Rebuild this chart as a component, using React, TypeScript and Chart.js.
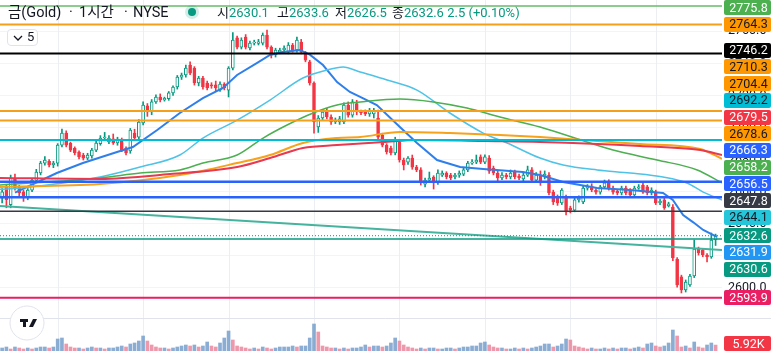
import React, { useEffect, useRef } from "react";
import { Chart, registerables } from "chart.js";

Chart.register(...registerables);

const FONT = "Roboto, 'Noto Sans CJK KR', 'Noto Sans', sans-serif";

// ---------- candles (1h bars, oldest first) ----------
const opens = [
  2656.0, 2663.0, 2652.0, 2668.0, 2663.0, 2660.0, 2656.5, 2661.0, 2667.0, 2671.7,
  2677.9, 2679.0, 2676.7, 2677.9, 2689.0, 2696.6, 2690.3, 2687.0, 2684.8, 2682.9,
  2681.0, 2682.3, 2686.0, 2690.0, 2693.5, 2691.0, 2693.0, 2690.4, 2692.3, 2687.0,
  2685.5, 2696.6, 2694.0, 2702.9, 2713.5, 2709.7, 2716.0, 2719.0, 2717.2, 2718.0,
  2721.6, 2725.3, 2731.5, 2732.8, 2739.0, 2737.1, 2727.8, 2730.9, 2727.8, 2726.6,
  2726.6, 2723.4, 2727.2, 2723.4, 2737.1, 2755.9, 2750.2, 2756.5, 2749.6, 2752.7,
  2752.5, 2752.7, 2757.7, 2750.2, 2745.3, 2747.1, 2748.4, 2747.1, 2751.5, 2748.4,
  2753.3, 2745.9, 2741.0, 2727.8, 2700.4, 2706.0, 2710.3, 2706.6, 2703.5, 2703.5,
  2703.5, 2714.1, 2707.8, 2715.0, 2709.7, 2709.7, 2708.5, 2708.5, 2706.0, 2695.4,
  2689.1, 2687.3, 2684.2, 2691.0, 2679.8, 2678.5, 2681.0, 2675.4, 2673.6, 2664.8,
  2667.3, 2669.2, 2665.5, 2670.4, 2671.7, 2670.4, 2669.2, 2670.4, 2671.0, 2673.6,
  2677.9, 2678.5, 2681.7, 2678.5, 2681.0, 2674.8, 2671.7, 2668.6, 2670.4, 2669.2,
  2672.3, 2669.8, 2668.0, 2670.4, 2673.6, 2667.3, 2670.4, 2669.8, 2670.4, 2659.8,
  2656.7, 2653.0, 2656.1, 2649.9, 2648.6, 2654.9, 2653.6, 2662.3, 2663.6, 2661.1,
  2659.8, 2663.0, 2666.1, 2662.3, 2660.4, 2659.2, 2662.3, 2661.1, 2658.0, 2662.3,
  2664.2, 2663.0, 2659.2, 2659.8, 2653.0, 2654.9, 2651.1, 2650.5, 2618.0, 2606.9,
  2598.8, 2601.9, 2607.5, 2624.3, 2623.7, 2620.6, 2619.3, 2630.1,
];
const highs = [
  2662.0, 2664.0, 2670.4, 2671.0, 2664.0, 2661.0, 2662.0, 2668.0, 2674.0, 2679.0,
  2682.0, 2680.0, 2679.0, 2690.0, 2699.1, 2698.0, 2691.0, 2688.0, 2685.5, 2684.0,
  2684.0, 2687.0, 2692.0, 2695.0, 2697.0, 2695.0, 2696.0, 2694.0, 2693.5, 2688.0,
  2699.5, 2699.0, 2705.0, 2716.0, 2715.0, 2717.5, 2720.5, 2721.0, 2719.0, 2722.5,
  2726.0, 2732.5, 2734.0, 2739.0, 2741.0, 2738.0, 2732.0, 2732.0, 2729.0, 2728.0,
  2729.0, 2728.5, 2728.0, 2738.0, 2759.3, 2757.0, 2756.0, 2758.0, 2754.0, 2754.5,
  2755.0, 2759.0, 2760.8, 2751.0, 2749.5, 2749.5, 2751.0, 2753.0, 2752.5, 2756.5,
  2755.0, 2747.5, 2742.0, 2728.5, 2707.5, 2711.0, 2712.0, 2708.0, 2706.0, 2707.0,
  2715.5, 2716.0, 2717.5, 2717.0, 2711.0, 2711.0, 2712.0, 2712.0, 2711.0, 2696.5,
  2690.0, 2688.5, 2694.0, 2692.5, 2681.0, 2682.0, 2682.9, 2676.5, 2675.0, 2668.5,
  2672.3, 2670.0, 2673.6, 2673.0, 2672.5, 2671.5, 2671.5, 2673.0, 2675.0, 2679.0,
  2680.0, 2682.9, 2683.0, 2683.0, 2682.5, 2676.0, 2673.0, 2672.0, 2671.5, 2673.6,
  2673.5, 2671.0, 2671.5, 2676.0, 2675.0, 2672.0, 2673.0, 2673.0, 2672.0, 2661.0,
  2658.0, 2662.0, 2658.0, 2651.0, 2656.0, 2657.5, 2663.5, 2664.5, 2665.0, 2662.0,
  2664.0, 2667.3, 2667.5, 2663.5, 2661.5, 2663.5, 2663.5, 2662.0, 2663.5, 2664.5,
  2666.0, 2664.0, 2662.5, 2661.0, 2655.5, 2656.0, 2653.5, 2652.0, 2619.0, 2608.0,
  2605.0, 2608.5, 2629.9, 2625.5, 2624.5, 2621.5, 2634.3, 2633.6,
];
const lows = [
  2653.0, 2650.0, 2650.0, 2661.0, 2657.0, 2654.0, 2655.0, 2660.0, 2666.0, 2670.5,
  2676.5, 2675.5, 2675.0, 2676.0, 2688.0, 2688.0, 2685.0, 2683.0, 2680.5, 2679.8,
  2680.0, 2681.0, 2685.0, 2689.0, 2692.0, 2690.0, 2689.5, 2689.0, 2685.0, 2683.0,
  2684.0, 2692.0, 2693.0, 2701.6, 2707.0, 2708.0, 2715.0, 2716.0, 2716.5, 2717.0,
  2720.0, 2724.0, 2730.0, 2731.5, 2733.0, 2726.5, 2726.0, 2724.0, 2723.5, 2724.5,
  2723.0, 2722.5, 2723.5, 2719.1, 2736.0, 2749.0, 2749.0, 2749.0, 2748.5, 2751.5,
  2751.5, 2751.5, 2749.0, 2743.4, 2744.0, 2746.0, 2747.0, 2746.0, 2747.0, 2747.0,
  2746.0, 2741.0, 2726.5, 2696.6, 2697.0, 2705.0, 2705.5, 2702.0, 2702.5, 2702.0,
  2702.5, 2706.5, 2706.5, 2708.0, 2708.0, 2707.5, 2707.0, 2706.0, 2693.0, 2688.0,
  2683.5, 2683.0, 2683.0, 2678.5, 2673.6, 2677.0, 2674.0, 2672.5, 2664.2, 2663.0,
  2666.0, 2661.7, 2664.5, 2669.5, 2668.0, 2667.5, 2668.0, 2669.0, 2670.0, 2672.5,
  2677.0, 2677.5, 2677.5, 2677.5, 2671.5, 2670.5, 2666.7, 2667.5, 2668.0, 2668.0,
  2668.0, 2667.5, 2666.5, 2669.5, 2666.0, 2666.0, 2664.0, 2668.0, 2658.0, 2652.0,
  2651.5, 2652.0, 2645.5, 2646.8, 2647.5, 2653.5, 2652.5, 2661.0, 2660.0, 2658.5,
  2658.5, 2662.0, 2661.0, 2658.5, 2658.0, 2658.0, 2658.0, 2657.0, 2657.0, 2661.5,
  2659.0, 2658.0, 2658.0, 2652.0, 2652.0, 2649.0, 2650.5, 2617.0, 2600.5, 2596.9,
  2597.5, 2601.0, 2606.5, 2620.5, 2619.5, 2616.2, 2618.5, 2626.5,
];
const closes = [
  2660.0, 2655.0, 2668.6, 2662.3, 2659.2, 2656.7, 2661.0, 2667.3, 2672.3, 2677.9,
  2679.8, 2676.7, 2677.9, 2689.1, 2696.6, 2689.1, 2686.0, 2684.2, 2681.7, 2681.0,
  2682.9, 2686.0, 2690.4, 2693.5, 2694.0, 2693.5, 2690.4, 2692.9, 2686.0, 2684.2,
  2698.5, 2693.5, 2703.5, 2714.1, 2709.7, 2716.0, 2719.0, 2717.2, 2718.3, 2721.6,
  2725.3, 2731.5, 2732.8, 2737.1, 2734.0, 2727.8, 2730.9, 2725.3, 2724.7, 2726.0,
  2724.7, 2727.2, 2724.7, 2737.1, 2754.6, 2750.2, 2754.6, 2750.2, 2752.7, 2753.3,
  2753.5, 2757.7, 2750.2, 2745.3, 2748.4, 2748.4, 2749.6, 2751.5, 2748.4, 2754.6,
  2747.1, 2742.1, 2727.8, 2703.5, 2706.0, 2709.7, 2706.6, 2703.5, 2704.7, 2705.5,
  2714.1, 2707.8, 2716.0, 2709.7, 2709.1, 2708.5, 2711.0, 2710.3, 2694.1, 2689.1,
  2684.8, 2684.2, 2692.3, 2679.8, 2676.7, 2681.0, 2675.4, 2673.6, 2665.5, 2667.3,
  2668.6, 2666.1, 2671.7, 2671.7, 2669.2, 2668.6, 2670.4, 2671.7, 2673.6, 2677.9,
  2678.5, 2679.8, 2678.5, 2681.7, 2672.9, 2671.7, 2668.6, 2670.4, 2669.2, 2671.7,
  2669.2, 2668.6, 2670.4, 2673.6, 2667.3, 2670.4, 2665.5, 2671.0, 2659.2, 2653.6,
  2653.0, 2661.1, 2647.4, 2648.6, 2654.9, 2656.1, 2662.3, 2663.0, 2661.1, 2659.8,
  2663.0, 2665.5, 2662.3, 2659.8, 2659.2, 2662.3, 2659.2, 2658.0, 2662.3, 2663.0,
  2659.8, 2659.2, 2661.1, 2653.0, 2654.2, 2649.9, 2652.4, 2618.7, 2601.9, 2598.8,
  2603.7, 2607.5, 2624.3, 2621.8, 2620.6, 2619.3, 2629.9, 2632.6,
];
// volume in thousands
const volumesK = [
  3, 4, 2, 4, 3, 2, 3, 2, 3, 4,
  4, 3, 4, 12, 13, 7, 4, 3, 3, 2,
  3, 4, 3, 3, 2, 3, 3, 4, 5, 4,
  7, 8, 10, 15, 10, 6, 4, 3, 3, 2,
  3, 4, 5, 6, 5, 6, 4, 5, 9, 5,
  4, 8, 13, 20, 11, 5, 4, 3, 2, 3,
  2, 4, 3, 2, 3, 4, 4, 4, 5, 4,
  5, 5, 13, 27, 19, 5, 4, 3, 3, 2,
  3, 2, 3, 3, 4, 6, 4, 5, 5, 4,
  5, 8, 13, 10, 6, 4, 3, 2, 3, 2,
  3, 3, 2, 2, 3, 3, 2, 3, 4, 4,
  5, 5, 8, 9, 6, 4, 3, 3, 2, 2,
  3, 2, 3, 2, 3, 4, 5, 7, 7, 4,
  5, 7, 12, 11, 5, 4, 3, 2, 3, 2,
  2, 3, 2, 3, 2, 3, 3, 2, 3, 4,
  3, 7, 8, 5, 4, 5, 8, 21, 15, 4,
  5, 3, 9, 4, 3, 6, 8, 5.92,
];

// ---------- indicator lines: [bar index, price] ----------
const maBlue = [
  [3, 2659.5], [12.8, 2671.7], [18.9, 2677.9], [26.9, 2684.8], [30.6, 2687.9], [36.3, 2698.5],
  [41.6, 2709.1], [47.0, 2718.4], [51.7, 2724.7], [55.0, 2732.8], [59.7, 2740.3], [62.7, 2745.3],
  [65.7, 2747.1], [69.7, 2748.4], [72.1, 2745.3], [75.1, 2739.0], [78.4, 2728.4], [81.4, 2722.2],
  [83.8, 2719.1], [87.7, 2714.1], [93.1, 2700.4], [97.1, 2690.4], [101.8, 2679.8], [107.2, 2675.4],
  [112.6, 2674.2], [121.9, 2672.3], [125.9, 2670.4], [131.3, 2666.1], [139.3, 2662.3], [147.0, 2661.1],
  [154.7, 2659.2], [157.0, 2654.9], [159.4, 2645.5], [161.7, 2641.1], [164.1, 2636.2], [167.3, 2631.9],
];
const maCyan = [
  [-0.5, 2661.5], [4.2, 2662.3], [22.9, 2669.2], [32.3, 2675.4], [41.6, 2682.9], [47.0, 2693.5],
  [55.0, 2704.7], [62.7, 2717.2], [70.4, 2730.9], [76.0, 2735.9], [79.8, 2737.8], [83.8, 2734.7],
  [90.1, 2729.7], [97.1, 2723.4], [104.8, 2709.1], [112.6, 2696.6], [118.2, 2690.4], [125.9, 2681.0],
  [131.3, 2676.7], [139.3, 2673.6], [147.0, 2671.7], [154.7, 2669.2], [160.3, 2665.5], [164.1, 2659.8],
  [168.5, 2654.9],
];
const maGreen = [
  [-0.5, 2664.2], [22.9, 2668.6], [32.3, 2671.7], [41.6, 2673.6], [47.0, 2677.9], [55.0, 2682.9],
  [61.1, 2693.5], [66.7, 2701.6], [72.8, 2709.1], [78.4, 2714.1], [83.8, 2715.9], [93.1, 2717.8],
  [100.9, 2716.0], [108.8, 2712.2], [116.5, 2706.6], [125.9, 2700.4], [143.0, 2686.0], [153.3, 2679.8],
  [162.7, 2673.6], [168.5, 2665.5],
];
const maOrange = [
  [-0.5, 2663.0], [22.9, 2664.8], [41.6, 2670.4], [55.0, 2677.9], [62.7, 2682.9], [70.4, 2690.4],
  [78.4, 2693.5], [83.8, 2694.1], [93.1, 2697.3], [104.8, 2696.6], [116.5, 2695.4], [125.9, 2694.1],
  [149.3, 2689.8], [163.4, 2686.7], [168.5, 2680.5],
];
const maRed = [
  [-0.5, 2668.6], [22.9, 2668.0], [39.3, 2671.0], [55.0, 2675.4], [62.7, 2681.0], [70.4, 2687.3],
  [78.4, 2689.1], [89.2, 2691.0], [97.1, 2692.3], [112.6, 2691.6], [125.9, 2691.0], [149.3, 2688.5],
  [163.4, 2686.0], [168.5, 2682.9],
];
const trendLine = [[-0.5, 2651.1], [168.5, 2623.7]];

// ---------- horizontal levels and price-scale labels ----------
const levelPrices = [2775.8, 2764.3, 2746.2, 2710.3, 2704.4, 2692.2, 2666.3, 2656.5, 2647.8, 2630.6, 2593.9];
const labelPrices = [
  2775.8, 2764.3, 2746.2, 2710.3, 2704.4, 2692.2, 2679.5, 2678.6, 2666.3,
  2658.2, 2656.5, 2647.8, 2644.1, 2632.6, 2631.9, 2630.6, 2593.9,
];
const lastPrice = 2632.6;
const priceTicks = [2600, 2620, 2640, 2660, 2680, 2700, 2720, 2740, 2760];
const gridBars = [13, 33, 53, 73, 93, 113, 133, 153];

const UP = "#089981";
const DOWN = "#f23645";

const levelStyle: Record<string, [string, number]> = {
  "2775.8": ["#66bb6a", 1.5],
  "2764.3": ["#f5a01a", 2],
  "2746.2": ["#000000", 2],
  "2710.3": ["#f5a01a", 2],
  "2704.4": ["#f5a01a", 2],
  "2692.2": ["#00bcd4", 2],
  "2666.3": ["#2962ff", 2.5],
  "2656.5": ["#2962ff", 2.5],
  "2647.8": ["#363a45", 1.5],
  "2630.6": ["#089981", 1.5],
  "2593.9": ["#e91e63", 2],
};
const labelStyle: Record<string, [string, string]> = {
  "2775.8": ["#4caf50", "#ffffff"],
  "2764.3": ["#ff9800", "#131722"],
  "2746.2": ["#000000", "#ffffff"],
  "2710.3": ["#ff9800", "#131722"],
  "2704.4": ["#ff9800", "#131722"],
  "2692.2": ["#00bcd4", "#131722"],
  "2679.5": ["#f23645", "#ffffff"],
  "2678.6": ["#ff9800", "#131722"],
  "2666.3": ["#2962ff", "#ffffff"],
  "2658.2": ["#4caf50", "#ffffff"],
  "2656.5": ["#2962ff", "#ffffff"],
  "2647.8": ["#363a45", "#ffffff"],
  "2644.1": ["#26c6da", "#131722"],
  "2632.6": ["#089981", "#ffffff"],
  "2631.9": ["#2196f3", "#ffffff"],
  "2630.6": ["#089981", "#ffffff"],
  "2593.9": ["#e91e63", "#ffffff"],
};

export default function App() {
  const canvasRef = useRef<HTMLCanvasElement | null>(null);

  useEffect(() => {
    const canvas = canvasRef.current;
    if (!canvas) return;
    const n = closes.length;
    const H = 351;
    const axisW = 49;
    // price scale: 2600 at y=288, 1.604 px per point
    const pxPerPt = 1.604;
    const yMax = 2600 + 288 / pxPerPt;
    const yMin = yMax - H / pxPerPt;

    const isUp = closes.map((c, i) => c >= opens[i]);
    const volUp = volumesK.map((v, i) => (i === 0 ? true : v >= volumesK[i - 1]));
    const pts = (arr: number[][]) => arr.map(([x, y]) => ({ x, y }));

    const lineDs = (data: number[][], color: string, width: number, order: number, extra: any = {}) => ({
      type: "line",
      data: pts(data),
      borderColor: color,
      borderWidth: width,
      pointRadius: 0,
      tension: 0,
      order,
      yAxisID: "y",
      ...extra,
    });

    const datasets: any[] = [];
    levelPrices.forEach((p) => {
      const [c, w] = levelStyle[p.toFixed(1)];
      datasets.push(lineDs([[-0.5, p], [n + 0.5, p]], c, w, -3));
    });
    datasets.push(lineDs([[-0.5, lastPrice], [n + 0.5, lastPrice]], UP, 1, -3, { borderDash: [1, 2] }));
    datasets.push(lineDs(trendLine, "#45b39d", 2, -2));
    datasets.push(lineDs(maRed, "#e8394f", 2, -1, { cubicInterpolationMode: "monotone" }));
    datasets.push(lineDs(maOrange, "#f7a21b", 2, -1, { cubicInterpolationMode: "monotone" }));
    datasets.push(lineDs(maGreen, "#4caf50", 1.5, -1, { cubicInterpolationMode: "monotone" }));
    datasets.push(lineDs(maCyan, "#4ec3e6", 1.5, -1, { cubicInterpolationMode: "monotone" }));
    datasets.push(lineDs(maBlue, "#2f7fea", 2, -1));
    datasets.push({
      type: "bar",
      data: opens.map((o, i) => ({ x: i, y: [o, closes[i]] })),
      backgroundColor: isUp.map((u) => (u ? "#ffffff" : DOWN)),
      borderColor: isUp.map((u) => (u ? UP : DOWN)),
      borderWidth: 1,
      borderSkipped: false,
      barThickness: 3,
      minBarLength: 1,
      grouped: false,
      order: 0,
      yAxisID: "y",
    });
    datasets.push({
      type: "bar",
      data: lows.map((l, i) => ({ x: i, y: [l, highs[i]] })),
      backgroundColor: isUp.map((u) => (u ? UP : DOWN)),
      borderWidth: 0,
      barThickness: 1,
      grouped: false,
      order: 1,
      yAxisID: "y",
    });
    datasets.push({
      type: "bar",
      data: volumesK.map((v, i) => ({ x: i, y: v })),
      backgroundColor: volUp.map((u) => (u ? "rgba(110,152,200,0.8)" : "rgba(232,128,150,0.8)")),
      borderWidth: 0,
      barThickness: 3,
      grouped: false,
      order: 5,
      yAxisID: "yVol",
    });

    const overlay = {
      id: "overlay",
      beforeDatasetsDraw(chart: any) {
        const ctx = chart.ctx;
        const xs = chart.scales.x;
        ctx.save();
        ctx.strokeStyle = "#eceef2";
        ctx.lineWidth = 1;
        gridBars.forEach((b) => {
          const x = Math.round(xs.getPixelForValue(b)) + 0.5;
          ctx.beginPath();
          ctx.moveTo(x, 0);
          ctx.lineTo(x, chart.height);
          ctx.stroke();
        });
        ctx.strokeStyle = "#e0e3eb";
        ctx.beginPath();
        ctx.moveTo(0, 318.5);
        ctx.lineTo(chart.width, 318.5);
        ctx.stroke();
        ctx.restore();
      },
      afterDraw(chart: any) {
        const ctx = chart.ctx;
        const ys = chart.scales.y;
        const yv = chart.scales.yVol;
        const bw = 47;
        const bh = 15;
        const bx = chart.width - bw;
        const items = labelPrices
          .map((p) => ({ p, y: ys.getPixelForValue(p) }))
          .sort((a, b) => b.p - a.p);
        const a = items.findIndex((it) => it.p === lastPrice);
        const step = 16.7;
        for (let i = a - 1; i >= 0; i--) items[i].y = Math.min(items[i].y, items[i + 1].y - step);
        for (let i = a + 1; i < items.length; i++) items[i].y = Math.max(items[i].y, items[i - 1].y + step);
        ctx.save();
        ctx.font = `12.5px ${FONT}`;
        ctx.textAlign = "center";
        ctx.textBaseline = "middle";
        const drawBox = (text: string, cy: number, bg: string, fg: string) => {
          const y = Math.max(bh / 2, Math.min(chart.height - bh / 2, cy));
          ctx.fillStyle = bg;
          ctx.beginPath();
          if (ctx.roundRect) ctx.roundRect(bx, Math.round(y - bh / 2), bw, bh, 2);
          else ctx.rect(bx, Math.round(y - bh / 2), bw, bh);
          ctx.fill();
          ctx.fillStyle = fg;
          ctx.fillText(text, bx + bw / 2 + 1, Math.round(y) + 0.5);
        };
        items.forEach((it) => {
          const [bg, fg] = labelStyle[it.p.toFixed(1)];
          drawBox(it.p.toFixed(1), it.y, bg, fg);
        });
        const lastVol = volumesK[volumesK.length - 1];
        drawBox(lastVol.toFixed(2) + "K", yv.getPixelForValue(lastVol) - 1, "#f23645", "#ffffff");
        ctx.restore();
      },
    };

    const chart = new Chart(canvas, {
      data: { datasets },
      options: {
        responsive: false,
        animation: false,
        devicePixelRatio: 1,
        layout: { padding: 0 },
        plugins: { legend: { display: false }, tooltip: { enabled: false } },
        scales: {
          x: { type: "linear", offset: false, min: -0.5, max: n + 0.5, display: false },
          y: {
            type: "linear",
            position: "right",
            min: yMin,
            max: yMax,
            afterBuildTicks: (s: any) => {
              s.ticks = priceTicks.map((v) => ({ value: v }));
            },
            afterFit: (s: any) => {
              s.width = axisW;
              s.paddingTop = 0;
              s.paddingBottom = 0;
            },
            ticks: {
              padding: 6,
              color: "#131722",
              font: { family: FONT, size: 12.5 },
              callback: (v: any) => Number(v).toFixed(1),
            },
            grid: { color: "#f3f4f7", drawTicks: false },
            border: { display: false },
          },
          yVol: { type: "linear", min: 0, max: H, display: false },
        },
      } as any,
      plugins: [overlay],
    } as any);
    return () => chart.destroy();
  }, []);

  const txt: React.CSSProperties = { position: "absolute", top: 5, fontSize: 13, lineHeight: "16px", color: "#131722", whiteSpace: "nowrap" };
  const ttl: React.CSSProperties = { ...txt, top: 4, fontSize: 14.5, lineHeight: "18px" };
  const val: React.CSSProperties = { color: UP };

  return (
    <div style={{ position: "absolute", left: 0, top: 0, width: 771, height: 351, overflow: "hidden", background: "#ffffff", fontFamily: FONT }}>
      <canvas ref={canvasRef} width={771} height={351} style={{ position: "absolute", left: 0, top: 0, width: 771, height: 351 }} />
      <div style={{ ...ttl, left: 8 }}>금(Gold)</div>
      <div style={{ ...ttl, left: 69 }}>·</div>
      <div style={{ ...ttl, left: 79 }}>1시간</div>
      <div style={{ ...ttl, left: 124 }}>·</div>
      <div style={{ ...ttl, left: 133 }}>NYSE</div>
      <div style={{ position: "absolute", left: 185, top: 5, width: 14, height: 14, borderRadius: 7, background: "rgba(8,153,129,0.18)" }} />
      <div style={{ position: "absolute", left: 188, top: 8, width: 8, height: 8, borderRadius: 4, background: UP }} />
      <div style={{ ...txt, left: 217 }}>시<span style={val}>2630.1</span></div>
      <div style={{ ...txt, left: 277 }}>고<span style={val}>2633.6</span></div>
      <div style={{ ...txt, left: 335 }}>저<span style={val}>2626.5</span></div>
      <div style={{ ...txt, left: 392 }}>종<span style={val}>2632.6</span> <span style={val}>2.5 (+0.10%)</span></div>
      <div style={{ position: "absolute", left: 7, top: 29, width: 31, height: 17, boxSizing: "border-box", border: "1px solid #e0e3eb", borderRadius: 4, background: "#ffffff" }}>
        <svg width="10" height="8" style={{ position: "absolute", left: 5, top: 4 }}>
          <polyline points="1,2 5,6 9,2" fill="none" stroke="#131722" strokeWidth="1.3" />
        </svg>
        <span style={{ position: "absolute", left: 19, top: -1, fontSize: 13, lineHeight: "16px", color: "#131722" }}>5</span>
      </div>
      <svg width="40" height="40" style={{ position: "absolute", left: 7, top: 304 }}>
        <circle cx="20" cy="19" r="17" fill="#ffffff" stroke="#e0e3eb" strokeWidth="1" />
        <rect x="13" y="15" width="8" height="3" fill="#131722" />
        <rect x="16" y="15" width="3" height="8" fill="#131722" />
        <polygon points="26,15 30,15 26,23 22,23" fill="#131722" />
      </svg>
    </div>
  );
}
